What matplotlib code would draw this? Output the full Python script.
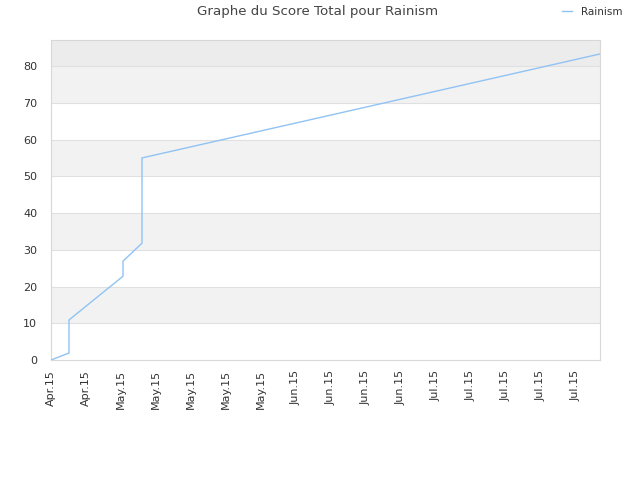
import matplotlib
matplotlib.use("Agg")
import matplotlib.pyplot as plt

# days since first tick, and total score
days = [0, 3.6, 3.6, 14.4, 14.4, 18.2, 18.2, 109.8]
scores = [0, 1.9, 10.9, 22.8, 26.9, 31.8, 55.0, 83.3]

tick_days = [0, 7, 14, 21, 28, 35, 42, 49, 56, 63, 70, 77, 84, 91, 98, 105]
tick_labels = ["Apr.15", "Apr.15", "May.15", "May.15", "May.15", "May.15", "May.15",
               "Jun.15", "Jun.15", "Jun.15", "Jun.15",
               "Jul.15", "Jul.15", "Jul.15", "Jul.15", "Jul.15"]
y_ticks = [0, 10, 20, 30, 40, 50, 60, 70, 80]

fig = plt.figure(figsize=(6.4, 4.8), dpi=100)
ax = fig.add_axes([51 / 640, 0.25, 549 / 640, 320 / 480])

ymax = 87.1
xmax = 109.8
# alternating bands
for i, lo in enumerate(range(0, 90, 10)):
    hi = min(lo + 10, ymax)
    if lo >= 80:
        color = "#ececec"
    elif i % 2 == 1:
        color = "#f2f2f2"
    else:
        color = "white"
    ax.axhspan(lo, hi, color=color, zorder=0, lw=0)
for y in y_ticks[1:]:
    ax.axhline(y, color="#e0e0e0", lw=0.8, zorder=1)

ax.plot(days, scores, color="#90c3f4", lw=1.0, label="Rainism", zorder=3)

ax.set_xlim(0, xmax)
ax.set_ylim(0, ymax)
ax.set_xticks(tick_days)
ax.set_xticklabels(tick_labels, rotation=90, fontsize=8, color="#333333")
ax.set_yticks(y_ticks)
ax.set_yticklabels([str(v) for v in y_ticks], fontsize=8, color="#333333")
ax.tick_params(axis="x", length=0, pad=7)
ax.tick_params(axis="y", length=0, pad=10)
for s in ax.spines.values():
    s.set_color("#d8d8d8")
    s.set_linewidth(0.8)

fig.text(318 / 640, 1 - 12 / 480, "Graphe du Score Total pour Rainism",
         ha="center", va="center", fontsize=9.6, color="#444444")
fig.legend(loc="center", bbox_to_anchor=(592 / 640, 1 - 12 / 480), frameon=False,
           fontsize=7.5, handlelength=1.0, handletextpad=0.8,
           labelcolor="#333333")

fig.savefig("out.png", dpi=100)
